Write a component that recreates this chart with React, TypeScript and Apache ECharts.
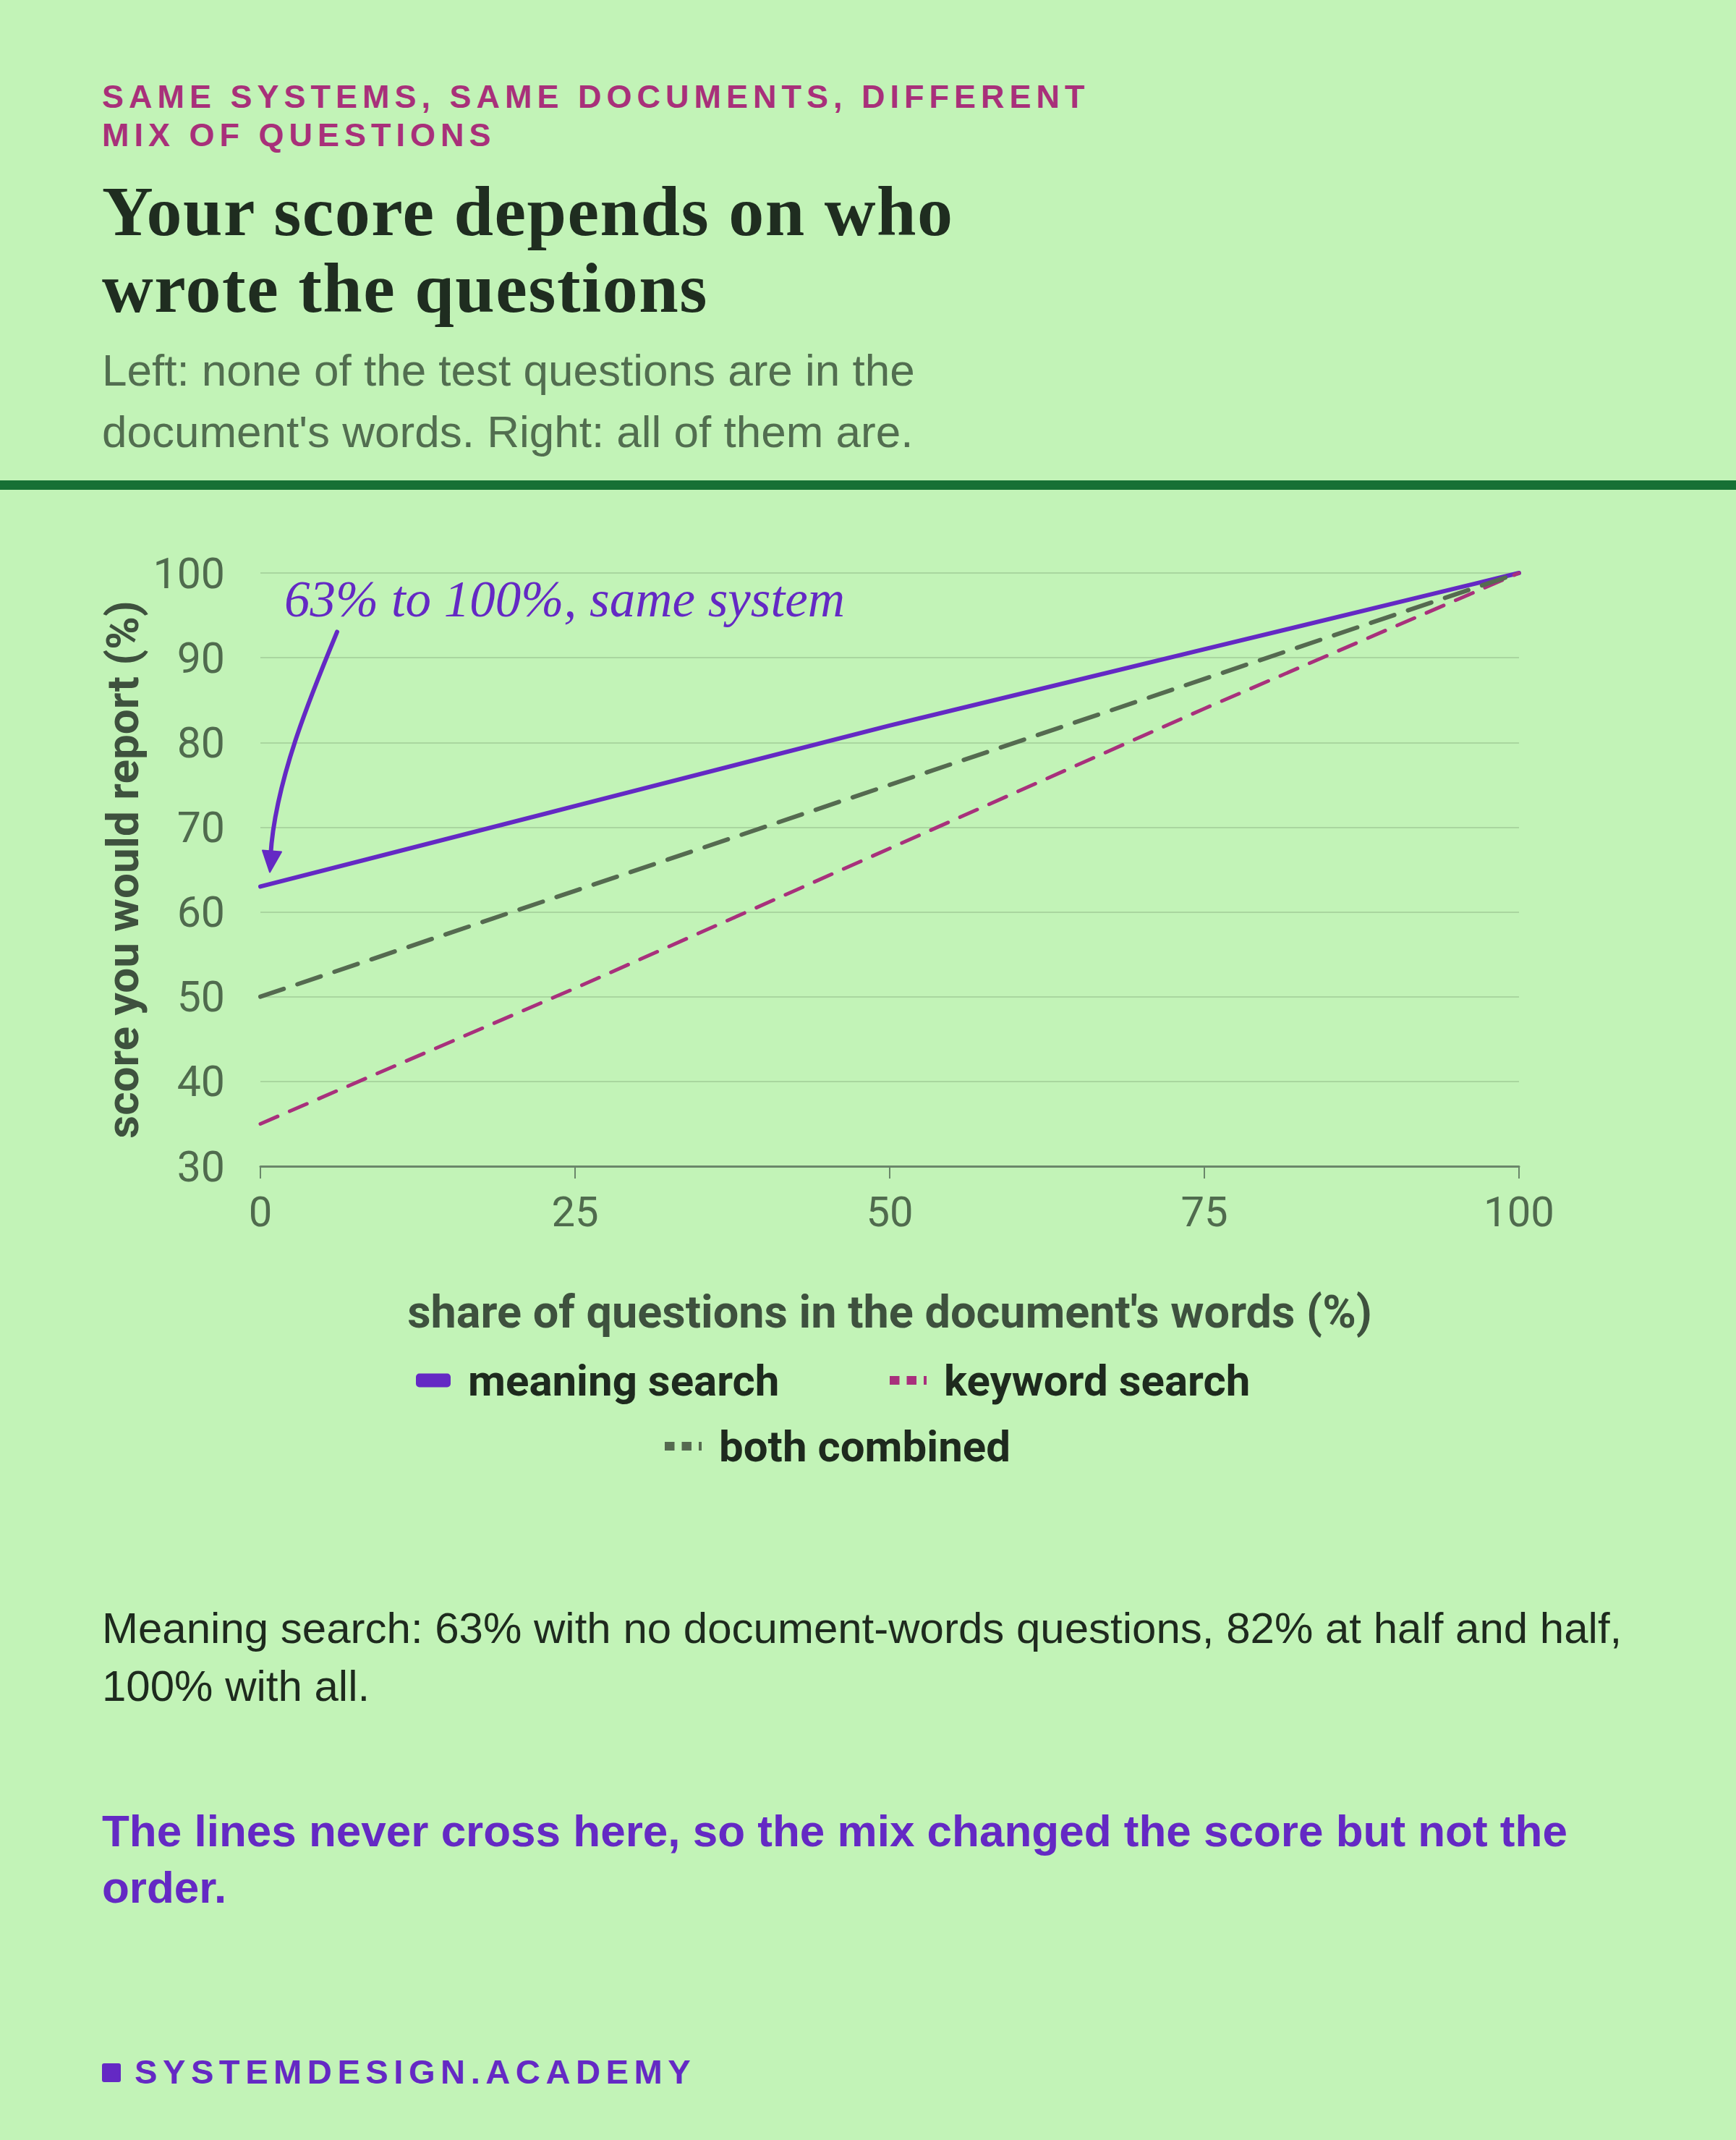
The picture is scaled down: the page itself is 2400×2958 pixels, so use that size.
import React, { useEffect, useRef } from 'react';
import * as echarts from 'echarts';

// share of questions written in the document's words (%)
const shares = [0, 25, 50, 75, 100];
// score you would report (%)
const meaningSearch = [63, 72.5, 82, 91, 100];
const keywordSearch = [35, 51, 67.5, 84, 100];
const bothCombined = [50, 62.5, 75, 87.5, 100];

const seriesNames = ['meaning search', 'keyword search', 'both combined'];

const xMin = 0;
const xMax = 100;
const xStep = 25;
const yMin = 30;
const yMax = 100;
const yStep = 10;

const annotationText = '63% to 100%, same system';
const annotationTop = [0, 100];
const annotationPoint = [0, 63];

const BG = '#c2f3b7';
const PURPLE = '#6429c4';
const MAGENTA = '#a8307c';
const GREY = '#556a50';
const INK = '#1e2a1e';
const AXIS_INK = '#506b4e';
const NAME_INK = '#3e513e';

const CHART_FONT = 'Roboto, "Liberation Sans", sans-serif';
const SANS = '"Liberation Sans", Arial, Helvetica, sans-serif';
const SERIF = '"Liberation Serif", "Times New Roman", serif';

const dashIcon = 'path://M0,0h13.5v12h-13.5z M23.5,0h13.5v12h-13.5z M47,0h4v12h-4z';

const pairs = (ys: number[]) => shares.map((x, i) => [x, ys[i]]);

const legendText = {
  color: INK,
  fontFamily: CHART_FONT,
  fontWeight: 'bold' as const,
  fontSize: 60,
  lineHeight: 70,
  padding: [0, 0, 16, 19],
};

const App: React.FC = () => {
  const chartRef = useRef<HTMLDivElement>(null);

  useEffect(() => {
    if (!chartRef.current) return;
    document.body.style.margin = '0';
    const chart = echarts.init(chartRef.current, null, { renderer: 'svg' });

    const option: echarts.EChartsOption = {
      animation: false,
      grid: { left: 360, right: 300, top: 792, height: 820 },
      xAxis: {
        type: 'value',
        min: xMin,
        max: xMax,
        interval: xStep,
        name: "share of questions in the document's words (%)",
        nameLocation: 'middle',
        nameGap: 170,
        nameTextStyle: {
          color: NAME_INK,
          fontFamily: CHART_FONT,
          fontWeight: 'bold',
          fontSize: 63,
          verticalAlign: 'top',
        },
        axisLine: { show: true, lineStyle: { color: '#6a866a', width: 3 } },
        axisTick: { show: true, length: 17, lineStyle: { color: '#6a866a', width: 2 } },
        axisLabel: { color: AXIS_INK, fontFamily: CHART_FONT, fontSize: 58, margin: 34 },
        splitLine: { show: false },
      },
      yAxis: {
        type: 'value',
        min: yMin,
        max: yMax,
        interval: yStep,
        name: 'score you would report (%)',
        nameLocation: 'middle',
        nameGap: 158,
        nameTextStyle: {
          color: NAME_INK,
          fontFamily: CHART_FONT,
          fontWeight: 'bold',
          fontSize: 62,
        },
        axisLine: { show: false },
        axisTick: { show: false },
        axisLabel: { color: AXIS_INK, fontFamily: CHART_FONT, fontSize: 59, margin: 49 },
        splitLine: { show: true, lineStyle: { color: '#a9d69f', width: 2 } },
      },
      legend: [
        {
          data: [{ name: seriesNames[0], icon: 'roundRect' }],
          left: 575,
          top: 1865,
          padding: 0,
          itemWidth: 48,
          itemHeight: 19,
          textStyle: legendText,
          selectedMode: false,
        },
        {
          data: [{ name: seriesNames[1], icon: dashIcon }],
          left: 1230,
          top: 1865,
          padding: 0,
          itemWidth: 51,
          itemHeight: 12,
          textStyle: legendText,
          selectedMode: false,
        },
        {
          data: [{ name: seriesNames[2], icon: dashIcon }],
          left: 919,
          top: 1956,
          padding: 0,
          itemWidth: 51,
          itemHeight: 12,
          textStyle: legendText,
          selectedMode: false,
        },
      ],
      series: [
        {
          name: seriesNames[0],
          type: 'line',
          data: pairs(meaningSearch),
          symbol: 'none',
          lineStyle: { color: PURPLE, width: 6, cap: 'round' },
          itemStyle: { color: PURPLE },
        },
        {
          name: seriesNames[1],
          type: 'line',
          data: pairs(keywordSearch),
          symbol: 'none',
          lineStyle: { color: MAGENTA, width: 5, type: [26, 18], cap: 'round' },
          itemStyle: { color: MAGENTA },
        },
        {
          name: seriesNames[2],
          type: 'line',
          data: pairs(bothCombined),
          symbol: 'none',
          lineStyle: { color: GREY, width: 6, type: [34, 20], cap: 'round' },
          itemStyle: { color: GREY },
        },
      ],
    };

    chart.setOption(option);

    // annotation placed from the data point it points at
    const top = chart.convertToPixel({ gridIndex: 0 }, annotationTop) as number[];
    const p = chart.convertToPixel({ gridIndex: 0 }, annotationPoint) as number[];
    chart.setOption({
      graphic: [
        {
          type: 'text',
          x: top[0] + 33,
          y: top[1] + 36,
          style: {
            text: annotationText,
            fill: PURPLE,
            fontFamily: SERIF,
            fontStyle: 'italic',
            fontSize: 71,
            align: 'left',
            verticalAlign: 'middle',
          },
        },
        {
          type: 'bezierCurve',
          shape: {
            x1: p[0] + 106,
            y1: p[1] - 352,
            cpx1: p[0] + 70,
            cpy1: p[1] - 265,
            cpx2: p[0] + 20,
            cpy2: p[1] - 145,
            x2: p[0] + 14,
            y2: p[1] - 42,
          },
          style: { stroke: PURPLE, lineWidth: 6, fill: 'none', lineCap: 'round' },
        },
        {
          type: 'polygon',
          shape: {
            points: [
              [p[0] + 3, p[1] - 50],
              [p[0] + 29, p[1] - 48],
              [p[0] + 13, p[1] - 20],
            ],
          },
          style: { fill: PURPLE, stroke: PURPLE, lineWidth: 2, lineJoin: 'round' },
        },
      ],
    });

    return () => {
      chart.dispose();
    };
  }, []);

  const abs = (top: number, left: number, extra: React.CSSProperties = {}): React.CSSProperties => ({
    position: 'absolute',
    top,
    left,
    margin: 0,
    whiteSpace: 'nowrap',
    ...extra,
  });

  return (
    <div style={{ position: 'absolute', left: 0, top: 0, width: 2400, height: 2958, background: BG, overflow: 'hidden' }}>
      <div ref={chartRef} style={{ position: 'absolute', left: 0, top: 0, width: 2400, height: 2958 }} />

      <div
        style={abs(107, 141, {
          fontFamily: SANS,
          fontWeight: 'bold',
          fontSize: 45,
          lineHeight: '53px',
          letterSpacing: 7,
          color: '#a8307a',
        })}
      >
        SAME SYSTEMS, SAME DOCUMENTS, DIFFERENT
        <br />
        MIX OF QUESTIONS
      </div>

      <div
        style={abs(239, 141, {
          fontFamily: SERIF,
          fontWeight: 'bold',
          fontSize: 98,
          lineHeight: '106px',
          letterSpacing: 1.5,
          color: '#1f2d20',
        })}
      >
        Your score depends on who
        <br />
        wrote the questions
      </div>

      <div
        style={abs(469, 141, {
          fontFamily: SANS,
          fontSize: 62,
          lineHeight: '85px',
          color: '#526e50',
        })}
      >
        Left: none of the test questions are in the
        <br />
        document's words. Right: all of them are.
      </div>

      <div style={abs(664, 0, { width: 2400, height: 13, background: '#177035' })} />

      <div
        style={abs(2211, 141, {
          fontFamily: SANS,
          fontSize: 60,
          lineHeight: '80px',
          color: INK,
        })}
      >
        Meaning search: 63% with no document-words questions, 82% at half and half,
        <br />
        100% with all.
      </div>

      <div
        style={abs(2492, 141, {
          fontFamily: SANS,
          fontWeight: 'bold',
          fontSize: 62,
          lineHeight: '78px',
          color: PURPLE,
        })}
      >
        The lines never cross here, so the mix changed the score but not the
        <br />
        order.
      </div>

      <div style={abs(2852, 141, { width: 26, height: 26, borderRadius: 3, background: PURPLE })} />
      <div
        style={abs(2840, 186, {
          fontFamily: SANS,
          fontWeight: 'bold',
          fontSize: 47,
          lineHeight: '47px',
          letterSpacing: 7.6,
          color: PURPLE,
        })}
      >
        SYSTEMDESIGN.ACADEMY
      </div>
    </div>
  );
};

export default App;
